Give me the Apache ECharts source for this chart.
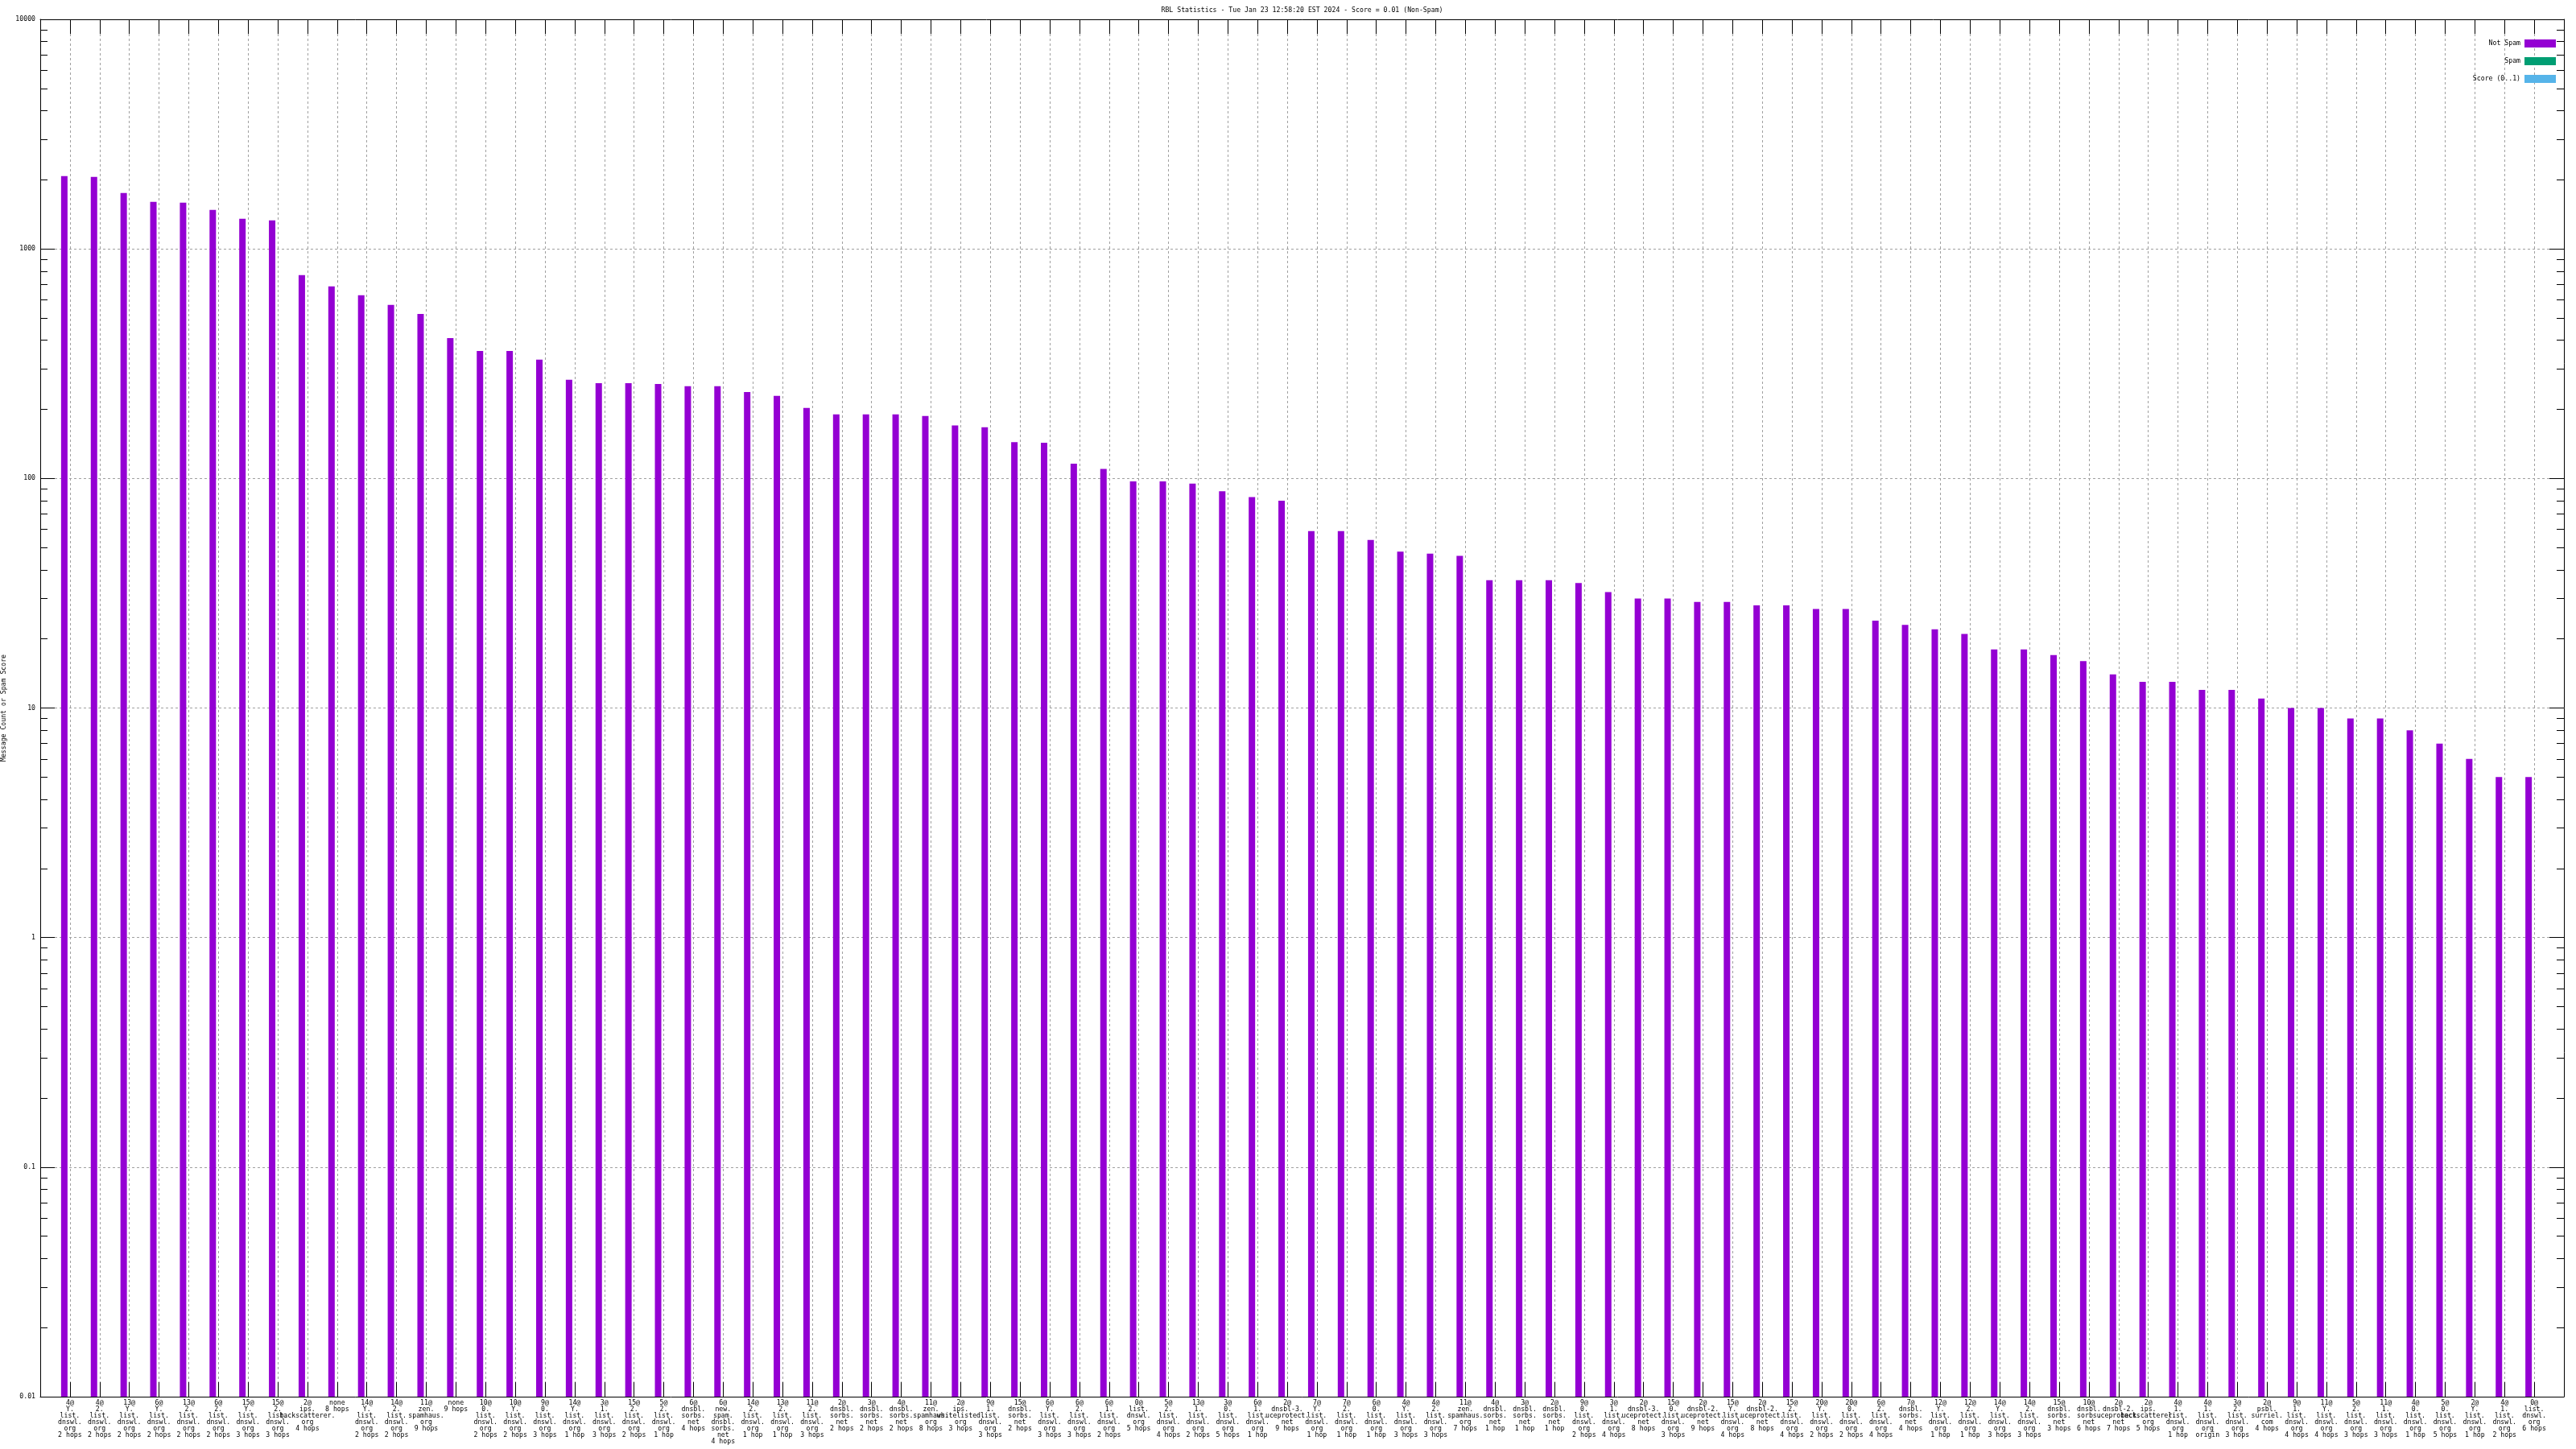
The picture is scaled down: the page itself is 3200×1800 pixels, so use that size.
<!DOCTYPE html>
<html>
<head>
<meta charset="utf-8">
<script src="https://cdn.jsdelivr.net/npm/echarts@6/dist/echarts.min.js"></script>
<style>
html,body{margin:0;padding:0;background:#fff;}
#chart{width:3200px;height:1800px;}
</style>
</head>
<body>
<div id="chart"></div>
<script>
const titleText = "RBL Statistics - Tue Jan 23 12:58:20 EST 2024 - Score = 0.01 (Non-Spam)";
const yAxisTitle = "Message Count or Spam Score";
const seriesNames = ["Not Spam", "Spam", "Score (0..1)"];
const yTickLabels = ["0.01", "0.1", "1", "10", "100", "1000", "10000"];

const categories = [
"4@\nY.\nlist.\ndnswl.\norg\n2 hops",
"4@\n2.\nlist.\ndnswl.\norg\n2 hops",
"13@\nY.\nlist.\ndnswl.\norg\n2 hops",
"6@\nY.\nlist.\ndnswl.\norg\n2 hops",
"13@\n2.\nlist.\ndnswl.\norg\n2 hops",
"6@\n2.\nlist.\ndnswl.\norg\n2 hops",
"15@\nY.\nlist.\ndnswl.\norg\n3 hops",
"15@\n2.\nlist.\ndnswl.\norg\n3 hops",
"2@\nips.\nbackscatterer.\norg\n4 hops",
"none\n8 hops",
"14@\nY.\nlist.\ndnswl.\norg\n2 hops",
"14@\n2.\nlist.\ndnswl.\norg\n2 hops",
"11@\nzen.\nspamhaus.\norg\n9 hops",
"none\n9 hops",
"10@\n0.\nlist.\ndnswl.\norg\n2 hops",
"10@\nY.\nlist.\ndnswl.\norg\n2 hops",
"9@\n0.\nlist.\ndnswl.\norg\n3 hops",
"14@\nY.\nlist.\ndnswl.\norg\n1 hop",
"3@\n1.\nlist.\ndnswl.\norg\n3 hops",
"15@\n2.\nlist.\ndnswl.\norg\n2 hops",
"5@\n2.\nlist.\ndnswl.\norg\n1 hop",
"6@\ndnsbl.\nsorbs.\nnet\n4 hops",
"6@\nnew.\nspam.\ndnsbl.\nsorbs.\nnet\n4 hops",
"14@\n2.\nlist.\ndnswl.\norg\n1 hop",
"13@\n2.\nlist.\ndnswl.\norg\n1 hop",
"11@\n2.\nlist.\ndnswl.\norg\n3 hops",
"2@\ndnsbl.\nsorbs.\nnet\n2 hops",
"3@\ndnsbl.\nsorbs.\nnet\n2 hops",
"4@\ndnsbl.\nsorbs.\nnet\n2 hops",
"11@\nzen.\nspamhaus.\norg\n8 hops",
"2@\nips.\nwhitelisted.\norg\n3 hops",
"9@\n1.\nlist.\ndnswl.\norg\n3 hops",
"15@\ndnsbl.\nsorbs.\nnet\n2 hops",
"6@\nY.\nlist.\ndnswl.\norg\n3 hops",
"6@\n2.\nlist.\ndnswl.\norg\n3 hops",
"6@\n1.\nlist.\ndnswl.\norg\n2 hops",
"0@\nlist.\ndnswl.\norg\n5 hops",
"5@\n2.\nlist.\ndnswl.\norg\n4 hops",
"13@\n1.\nlist.\ndnswl.\norg\n2 hops",
"3@\n0.\nlist.\ndnswl.\norg\n5 hops",
"6@\n1.\nlist.\ndnswl.\norg\n1 hop",
"2@\ndnsbl-3.\nuceprotect.\nnet\n9 hops",
"7@\nY.\nlist.\ndnswl.\norg\n1 hop",
"7@\n2.\nlist.\ndnswl.\norg\n1 hop",
"6@\n0.\nlist.\ndnswl.\norg\n1 hop",
"4@\nY.\nlist.\ndnswl.\norg\n3 hops",
"4@\n2.\nlist.\ndnswl.\norg\n3 hops",
"11@\nzen.\nspamhaus.\norg\n7 hops",
"4@\ndnsbl.\nsorbs.\nnet\n1 hop",
"3@\ndnsbl.\nsorbs.\nnet\n1 hop",
"2@\ndnsbl.\nsorbs.\nnet\n1 hop",
"9@\n0.\nlist.\ndnswl.\norg\n2 hops",
"3@\n1.\nlist.\ndnswl.\norg\n4 hops",
"2@\ndnsbl-3.\nuceprotect.\nnet\n8 hops",
"15@\n0.\nlist.\ndnswl.\norg\n3 hops",
"2@\ndnsbl-2.\nuceprotect.\nnet\n9 hops",
"15@\nY.\nlist.\ndnswl.\norg\n4 hops",
"2@\ndnsbl-2.\nuceprotect.\nnet\n8 hops",
"15@\n2.\nlist.\ndnswl.\norg\n4 hops",
"20@\nY.\nlist.\ndnswl.\norg\n2 hops",
"20@\n0.\nlist.\ndnswl.\norg\n2 hops",
"6@\n2.\nlist.\ndnswl.\norg\n4 hops",
"7@\ndnsbl.\nsorbs.\nnet\n4 hops",
"12@\nY.\nlist.\ndnswl.\norg\n1 hop",
"12@\n2.\nlist.\ndnswl.\norg\n1 hop",
"14@\nY.\nlist.\ndnswl.\norg\n3 hops",
"14@\n2.\nlist.\ndnswl.\norg\n3 hops",
"15@\ndnsbl.\nsorbs.\nnet\n3 hops",
"10@\ndnsbl.\nsorbs.\nnet\n6 hops",
"2@\ndnsbl-2.\nuceprotect.\nnet\n7 hops",
"2@\nips.\nbackscatterer.\norg\n5 hops",
"4@\n1.\nlist.\ndnswl.\norg\n1 hop",
"4@\n1.\nlist.\ndnswl.\norg\norigin",
"3@\n2.\nlist.\ndnswl.\norg\n3 hops",
"2@\npsbl.\nsurriel.\ncom\n4 hops",
"9@\n1.\nlist.\ndnswl.\norg\n4 hops",
"11@\nY.\nlist.\ndnswl.\norg\n4 hops",
"5@\n2.\nlist.\ndnswl.\norg\n3 hops",
"11@\n1.\nlist.\ndnswl.\norg\n3 hops",
"4@\n0.\nlist.\ndnswl.\norg\n1 hop",
"5@\n0.\nlist.\ndnswl.\norg\n5 hops",
"2@\nY.\nlist.\ndnswl.\norg\n1 hop",
"4@\n1.\nlist.\ndnswl.\norg\n2 hops",
"0@\nlist.\ndnswl.\norg\n6 hops"
];

const notSpam = [2075, 2058, 1750, 1602, 1589, 1479, 1352, 1331, 768, 686,
 628, 570, 521, 409, 359, 359, 329, 269, 260, 260,
 258, 252, 252, 238, 229, 203, 190, 190, 190, 187,
 170, 167, 144, 143, 116, 110, 97, 97, 95, 88,
 83, 80, 59, 59, 54, 48, 47, 46, 36, 36,
 36, 35, 32, 30, 30, 29, 29, 28, 28, 27,
 27, 24, 23, 22, 21, 18, 18, 17, 16, 14,
 13, 13, 12, 12, 11, 10, 10, 9, 9, 8,
 7, 6, 5, 5];

const spam = [0,0,0,0,0,0,0,0,0,0, 0,0,0,0,0,0,0,0,0,0, 0,0,0,0,0,0,0,0,0,0, 0,0,0,0,0,0,0,0,0,0,
 0,0,0,0,0,0,0,0,0,0, 0,0,0,0,0,0,0,0,0,0, 0,0,0,0,0,0,0,0,0,0, 0,0,0,0,0,0,0,0,0,0, 0,0,0,0];
const score = [0,0,0,0,0,0,0,0,0,0, 0,0,0,0,0,0,0,0,0,0, 0,0,0,0,0,0,0,0,0,0, 0,0,0,0,0,0,0,0,0,0,
 0,0,0,0,0,0,0,0,0,0, 0,0,0,0,0,0,0,0,0,0, 0,0,0,0,0,0,0,0,0,0, 0,0,0,0,0,0,0,0,0,0, 0,0,0,0];

const colors = ["#9400d3", "#009e73", "#56b4e9"];
const FONT = "DejaVu Sans Mono";
const FS = 8.2;

function toData(arr) {
  return arr.map((v, i) => [i, v > 0 ? v : '-']);
}

const chart = echarts.init(document.getElementById('chart'), null, {renderer: 'canvas'});

const xCommon = {type: 'value', min: -1, max: categories.length, interval: 1};
const yCommon = {type: 'log', logBase: 10, min: 0.01, max: 10000, startValue: 0.01};
const blackLine = {show: true, onZero: false, lineStyle: {color: '#000', width: 1}};

chart.setOption({
  animation: false,
  backgroundColor: '#ffffff',
  textStyle: {fontFamily: FONT, color: '#000'},
  title: {
    text: titleText, left: 1617.5, top: 9, padding: 0, textAlign: 'center',
    textStyle: {fontFamily: FONT, fontSize: FS, fontWeight: 'normal', color: '#000'}
  },
  legend: {
    orient: 'vertical', right: 20, top: 44, align: 'right',
    itemWidth: 39, itemHeight: 10, itemGap: 12, selectedMode: false,
    icon: 'rect',
    textStyle: {fontFamily: FONT, fontSize: FS, color: '#000', lineHeight: 10},
    data: seriesNames
  },
  grid: {left: 50, right: 15, top: 24, bottom: 65, containLabel: false, outerBoundsMode: 'none'},
  xAxis: [
    Object.assign({}, xCommon, {
      position: 'bottom',
      axisLine: blackLine,
      axisTick: {show: true, inside: true, length: 18, lineStyle: {color: '#000'}},
      axisLabel: {
        show: true, margin: 4, fontFamily: FONT, fontSize: FS, lineHeight: 8, color: '#000',
        formatter: v => (v >= 0 && v < categories.length) ? categories[v] : ''
      },
      splitLine: {show: true, lineStyle: {color: '#a0a0a0', type: [3, 3], width: 1}}
    }),
    Object.assign({}, xCommon, {
      position: 'top',
      axisLine: blackLine,
      axisTick: {show: true, inside: true, length: 18, lineStyle: {color: '#000'}},
      axisLabel: {show: false},
      splitLine: {show: false}
    })
  ],
  yAxis: [
    Object.assign({}, yCommon, {
      position: 'left',
      name: yAxisTitle, nameLocation: 'middle', nameGap: 35, nameRotate: 90,
      nameTextStyle: {fontFamily: FONT, fontSize: FS, color: '#000'},
      axisLine: blackLine,
      axisTick: {show: true, inside: true, length: 18, lineStyle: {color: '#000'}},
      minorTick: {show: true, splitNumber: 9, length: 9, lineStyle: {color: '#000'}},
      axisLabel: {
        show: true, margin: 6, fontFamily: FONT, fontSize: FS, color: '#000',
        formatter: v => yTickLabels[Math.round(Math.log10(v)) + 2]
      },
      splitLine: {show: true, lineStyle: {color: '#a0a0a0', type: [3, 3], width: 1}}
    }),
    Object.assign({}, yCommon, {
      position: 'right',
      axisLine: blackLine,
      axisTick: {show: true, inside: true, length: 18, lineStyle: {color: '#000'}},
      minorTick: {show: true, splitNumber: 9, length: 9, lineStyle: {color: '#000'}},
      axisLabel: {show: false},
      splitLine: {show: false}
    })
  ],
  series: [
    {name: seriesNames[0], type: 'bar', xAxisIndex: 0, yAxisIndex: 0, data: toData(notSpam),
     barWidth: 8, barGap: '-12.5%', itemStyle: {color: colors[0]}},
    {name: seriesNames[1], type: 'bar', xAxisIndex: 0, yAxisIndex: 0, data: toData(spam),
     barWidth: 8, barGap: '-12.5%', itemStyle: {color: colors[1]}},
    {name: seriesNames[2], type: 'bar', xAxisIndex: 0, yAxisIndex: 0, data: toData(score),
     barWidth: 8, barGap: '-12.5%', itemStyle: {color: colors[2]}}
  ]
});
</script>
</body>
</html>
